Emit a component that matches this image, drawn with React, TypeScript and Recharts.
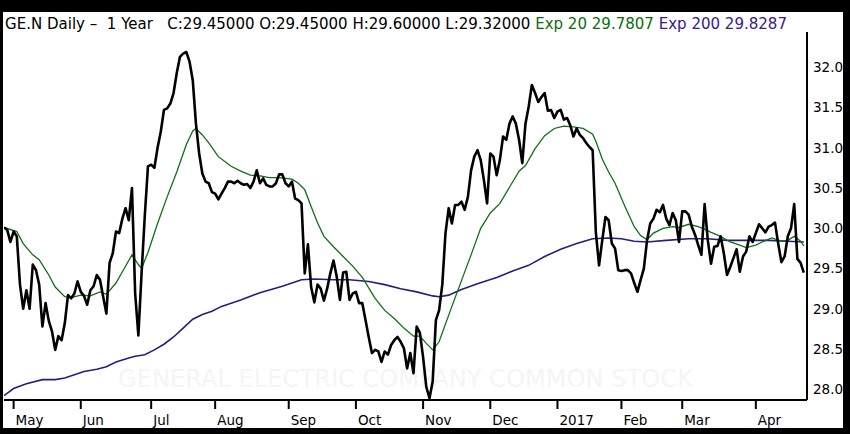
import React from 'react';
import { LineChart, Line, XAxis, YAxis } from 'recharts';

// daily closes, one per trading day from 27 Apr 2016 to 25 Apr 2017
const closes = [
  30.01, 29.98, 29.83, 29.96, 29.9, 29.3, 29.0, 29.23, 29.0, 29.55,
  29.48, 29.3, 28.78, 29.07, 28.85, 28.72, 28.49, 28.66, 28.61, 28.82,
  29.17, 29.13, 29.19, 29.34, 29.21, 29.16, 29.05, 29.23, 29.28, 29.42,
  29.36, 29.15, 28.94, 29.57, 29.69, 29.96, 29.94, 30.12, 30.25, 30.1,
  30.5, 29.19, 28.67, 29.44, 30.15, 30.77, 30.79, 30.75, 31.0, 31.2,
  31.47, 31.49, 31.55, 31.68, 31.93, 32.13, 32.17, 32.19, 32.07, 31.84,
  31.3, 30.93, 30.68, 30.58, 30.56, 30.45, 30.43, 30.36, 30.43, 30.5,
  30.58, 30.58, 30.56, 30.59, 30.56, 30.54, 30.55, 30.5, 30.58, 30.72,
  30.56, 30.62, 30.54, 30.52, 30.52, 30.56, 30.67, 30.67, 30.56, 30.52,
  30.58, 30.37, 30.35, 30.31, 29.44, 29.8, 29.27, 29.08, 29.3, 29.25,
  29.1, 29.25, 29.44, 29.6, 29.4, 29.11, 29.45, 29.46, 29.11, 29.19,
  29.21, 29.07, 29.07, 28.86, 28.65, 28.45, 28.49, 28.47, 28.34, 28.47,
  28.43, 28.55, 28.61, 28.65, 28.59, 28.51, 28.26, 28.45, 28.2, 28.78,
  28.7, 28.4, 28.03, 27.89, 28.1, 28.86, 28.98, 29.3, 29.94, 30.25,
  30.06, 30.29, 30.29, 30.33, 30.23, 30.39, 30.72, 30.89, 30.97, 30.85,
  30.6, 30.31, 30.93, 30.89, 30.66, 30.85, 31.14, 31.1, 31.3, 31.39,
  31.3, 31.1, 30.81, 31.3, 31.51, 31.78, 31.68, 31.57, 31.63, 31.68,
  31.46, 31.47, 31.37, 31.45, 31.47, 31.35, 31.37, 31.28, 31.14, 31.24,
  31.16, 31.12, 31.06, 31.01, 30.97, 29.95, 29.54, 29.85, 30.14, 30.1,
  29.81, 29.75, 29.48, 29.47, 29.48, 29.48, 29.44, 29.32, 29.21, 29.36,
  29.5, 29.85, 30.06, 30.12, 30.23, 30.2, 30.29, 30.12, 30.04, 30.19,
  30.1, 29.83, 30.21, 30.21, 30.17, 30.02, 29.92, 29.79, 29.67, 30.3,
  29.85, 29.56, 29.77, 29.78, 29.9, 29.69, 29.42, 29.52, 29.63, 29.74,
  29.46, 29.65, 29.71, 29.9, 29.83, 29.94, 30.05, 30.0, 29.95, 30.02,
  30.04, 30.07, 29.81, 29.58, 29.65, 29.9, 30.0, 30.3, 29.62, 29.57,
  29.45,
];

const ema20Days = [
  0, 4, 6, 9, 11, 14, 16, 19, 21, 24, 27, 30, 32, 35, 37, 40, 42, 43, 45, 48,
  51, 54, 57, 59, 60, 62, 64, 67, 71, 74, 77, 80, 83, 86, 90, 92, 94, 96, 98, 100,
  103, 106, 109, 112, 116, 119, 122, 125, 128, 130, 132, 134, 136, 140, 143, 146, 149, 152, 155, 158,
  161, 163, 166, 169, 172, 175, 178, 181, 184, 185, 187, 189, 191, 194, 197, 199, 201, 203, 206, 209,
  211, 214, 217, 219, 221, 224, 227, 230, 232, 235, 237, 240, 243, 245, 247, 249, 250,
];
const ema20Values = [
  30.01, 29.96, 29.81, 29.67, 29.61, 29.42, 29.27, 29.15, 29.14, 29.17, 29.16, 29.21, 29.18, 29.32, 29.46, 29.67, 29.55, 29.5, 29.7, 30.06,
  30.39, 30.7, 31.04, 31.21, 31.24, 31.16, 31.06, 30.89, 30.77, 30.71, 30.66, 30.65, 30.63, 30.63, 30.61, 30.56, 30.48, 30.27, 30.07, 29.9,
  29.77, 29.65, 29.53, 29.39, 29.13, 28.98, 28.88, 28.76, 28.66, 28.66, 28.57, 28.49, 28.59, 29.03, 29.35, 29.67, 30.0, 30.19, 30.31, 30.51,
  30.71, 30.78, 30.99, 31.15, 31.24, 31.27, 31.26, 31.24, 31.17, 31.08, 30.86, 30.7, 30.56, 30.28, 30.02, 29.91, 29.86, 29.94, 30.0, 30.02,
  30.01, 30.05, 30.02, 29.99, 29.95, 29.9, 29.83, 29.79, 29.76, 29.79, 29.83, 29.88, 29.84, 29.85, 29.9, 29.84, 29.78,
];

const ema200Days = [
  0, 3, 7, 12, 16, 19, 22, 25, 29, 32, 35, 39, 41, 44, 47, 50, 53, 56, 59, 62,
  65, 68, 74, 80, 87, 93, 97, 103, 108, 114, 119, 124, 129, 134, 136, 139, 143, 148, 154, 159,
  164, 169, 174, 179, 184, 189, 193, 197, 201, 207, 214, 220, 226, 232, 239, 245, 250,
];
const ema200Values = [
  27.92, 28.01, 28.07, 28.12, 28.12, 28.14, 28.18, 28.22, 28.25, 28.28, 28.34, 28.39, 28.41, 28.43, 28.49, 28.56, 28.65, 28.76, 28.87, 28.93,
  28.97, 29.03, 29.11, 29.2, 29.28, 29.36, 29.37, 29.36, 29.36, 29.34, 29.3, 29.25, 29.21, 29.16, 29.15, 29.17, 29.24, 29.31, 29.39, 29.47,
  29.54, 29.65, 29.74, 29.81, 29.87, 29.88, 29.87, 29.84, 29.83, 29.85, 29.87, 29.87, 29.85, 29.85, 29.85, 29.84, 29.83,
];

const monthDays = [3, 24, 46, 66, 89, 110, 131, 152, 173, 193, 212, 235];
const monthLabels = ['May', 'Jun', 'Jul', 'Aug', 'Sep', 'Oct', 'Nov', 'Dec', '2017', 'Feb', 'Mar', 'Apr'];
const priceTicks = [28, 28.5, 29, 29.5, 30, 30.5, 31, 31.5, 32];

const closeData = closes.map((close, day) => ({ day, close }));
const ema20Data = ema20Days.map((day, i) => ({ day, ema: ema20Values[i] }));
const ema200Data = ema200Days.map((day, i) => ({ day, ema: ema200Values[i] }));

const FONT = '"DejaVu Sans", Verdana, sans-serif';

function MonthTick(props: any) {
  const { x, y, payload } = props;
  const idx = monthDays.indexOf(payload.value);
  return (
    <text x={x + 2} y={y + 14} fontSize={13.5} fontFamily={FONT} fill="#000" textAnchor="start">
      {monthLabels[idx]}
    </text>
  );
}

export default function App() {
  return (
    <div style={{ position: 'absolute', left: 0, top: 0, width: 850, height: 434, background: '#000' }}>
      <div style={{ position: 'absolute', left: 3, top: 12, width: 840, height: 416, background: '#fff' }} />
      <svg width={850} height={434} style={{ position: 'absolute', left: 0, top: 0 }}>
        <text
          x={118}
          y={387}
          fontSize={25}
          fontFamily={FONT}
          fill="#f5f5f5"
          textLength={575}
          lengthAdjust="spacingAndGlyphs"
        >
          GENERAL ELECTRIC COMPANY COMMON STOCK
        </text>
        <text
          x={5}
          y={29}
          fontSize={15}
          fontFamily={FONT}
          fill="#000"
          textLength={782}
          lengthAdjust="spacingAndGlyphs"
          style={{ whiteSpace: 'pre' }}
        >
          {'GE.N Daily \u2013  1 Year   C:29.45000 O:29.45000 H:29.60000 L:29.32000 '}
          <tspan fill="#0b6e0b">{'Exp 20 29.7807 '}</tspan>
          <tspan fill="#35208a">{'Exp 200 29.8287'}</tspan>
        </text>
      </svg>
      <div style={{ position: 'absolute', left: 0, top: 0 }}>
        <LineChart width={850} height={434} margin={{ top: 32, right: 0, bottom: 0, left: 4 }}>
          <XAxis
            type="number"
            dataKey="day"
            domain={[0, 251]}
            allowDataOverflow
            ticks={monthDays}
            tick={MonthTick}
            tickSize={9}
            height={34}
            axisLine={{ stroke: '#000', strokeWidth: 2 }}
            tickLine={{ stroke: '#000', strokeWidth: 2 }}
            interval={0}
          />
          <YAxis
            orientation="right"
            type="number"
            domain={[27.867, 32.4385]}
            allowDataOverflow
            ticks={priceTicks}
            tickFormatter={(v: number) => v.toFixed(1)}
            width={43}
            tickSize={0}
            tickMargin={6}
            tickLine={false}
            axisLine={{ stroke: '#000', strokeWidth: 2 }}
            tick={{ fill: '#000', fontSize: 13.5, fontFamily: FONT }}
            interval={0}
          />
          <Line
            data={ema200Data}
            dataKey="ema"
            type="linear"
            stroke="#2b1c80"
            strokeWidth={1.6}
            dot={false}
            isAnimationActive={false}
          />
          <Line
            data={ema20Data}
            dataKey="ema"
            type="linear"
            stroke="#0f6f16"
            strokeWidth={1.3}
            dot={false}
            isAnimationActive={false}
          />
          <Line
            data={closeData}
            dataKey="close"
            type="linear"
            stroke="#000"
            strokeWidth={2.6}
            strokeLinejoin="round"
            dot={false}
            isAnimationActive={false}
          />
        </LineChart>
      </div>
    </div>
  );
}
